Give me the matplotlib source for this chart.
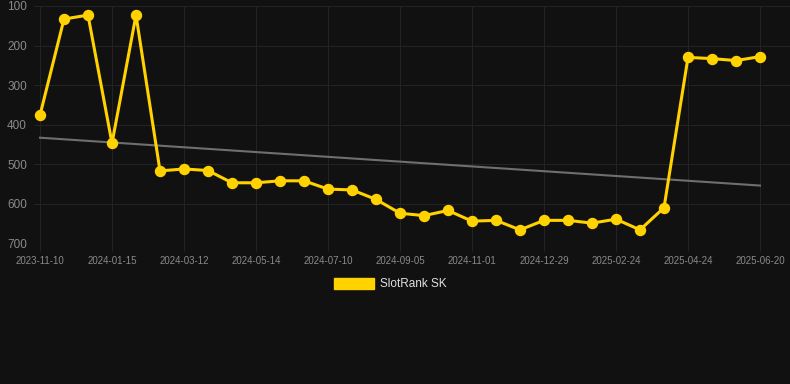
import matplotlib
matplotlib.use('Agg')
import matplotlib.pyplot as plt
from matplotlib.patches import Patch

# rank per snapshot (31 points, equal spacing)
rank = [376, 133, 123, 447, 123, 517, 512, 516, 547, 547,
        542, 542, 563, 565, 589, 624, 630, 617, 644, 642,
        666, 642, 642, 649, 639, 666, 610, 230, 233, 238, 228]

# labels shown on every third point
tick_labels = ['2023-11-10', '2024-01-15', '2024-03-12', '2024-05-14',
               '2024-07-10', '2024-09-05', '2024-11-01', '2024-12-29',
               '2025-02-24', '2025-04-24', '2025-06-20']

# trend line endpoints (first / last point)
trend = [433, 554]

bg = '#111111'
yellow = '#FFD200'
grid_c = '#232323'
tick_c = '#8a8a8a'

plt.rcParams['font.family'] = ['Liberation Sans', 'DejaVu Sans']

fig = plt.figure(figsize=(7.9, 3.84), dpi=100, facecolor=bg)
ax = fig.add_axes([34 / 790, 140.7 / 384, 756 / 790, 237.3 / 384])
ax.set_facecolor(bg)

x = list(range(len(rank)))
ax.plot([x[0], x[-1]], trend, color='#6f6f6f', lw=1.5, zorder=2)
ax.plot(x, rank, color=yellow, lw=2.2, marker='o', markersize=7.2,
        zorder=3, clip_on=False)

ax.set_xlim(-0.25, 31.25)
ax.set_ylim(700, 100)
ax.set_yticks([100, 200, 300, 400, 500, 600, 700])
ax.set_xticks(x[::3])
ax.set_xticklabels(tick_labels)

for s in ax.spines.values():
    s.set_visible(False)
ax.grid(True, color=grid_c, lw=0.8)
ax.tick_params(axis='y', length=0, pad=5, labelsize=8.5, labelcolor=tick_c)
ax.tick_params(axis='x', length=6, color=grid_c, pad=3, labelsize=7,
               labelcolor=tick_c)

fig.legend(handles=[Patch(color=yellow, label='SlotRank SK')],
           loc='center', bbox_to_anchor=(0.494, 0.26), frameon=False,
           fontsize=8.5, labelcolor='#e0e0e0', handlelength=3.4,
           handleheight=1.0, handletextpad=0.5)

fig.savefig('out.png', dpi=100, facecolor=bg)
